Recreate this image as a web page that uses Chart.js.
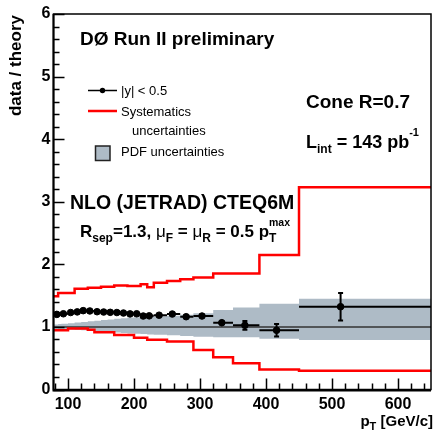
<!DOCTYPE html>
<html>
<head>
<meta charset="utf-8">
<script src="https://cdn.jsdelivr.net/npm/chart.js@4.4.1/dist/chart.umd.min.js"></script>
<style>
  html, body { margin: 0; padding: 0; background: #fff; }
  canvas { display: block; }
</style>
</head>
<body>
<canvas id="myChart" width="436" height="432"></canvas>
<script>
// data / theory for |y| < 0.5, one point per pT bin
const ptMean = [83, 93, 104, 114, 123, 133, 144, 154, 164, 174, 184, 194, 204, 214, 223, 238, 258, 279, 303, 333, 368, 416, 513];
const binLow = [80, 90, 100, 110, 120, 130, 140, 150, 160, 170, 180, 190, 200, 210, 220, 230, 250, 270, 290, 320, 350, 390, 450];
const binHigh = [90, 100, 110, 120, 130, 140, 150, 160, 170, 180, 190, 200, 210, 220, 230, 250, 270, 290, 320, 350, 390, 450, 650];
const ratio = [1.20, 1.21, 1.23, 1.24, 1.26, 1.255, 1.243, 1.238, 1.233, 1.23, 1.222, 1.208, 1.21, 1.174, 1.177, 1.187, 1.206, 1.163, 1.174, 1.067, 1.026, 0.946, 1.323];
const ratioErr = [0.01, 0.01, 0.01, 0.01, 0.01, 0.01, 0.01, 0.01, 0.01, 0.01, 0.01, 0.01, 0.01, 0.015, 0.015, 0.015, 0.02, 0.02, 0.03, 0.05, 0.07, 0.10, 0.22];

// step curves: value holds from each edge up to the next one
const edges = [78, 85, 90, 100, 110, 120, 130, 140, 150, 160, 170, 180, 190, 200, 210, 220, 230, 250, 270, 290, 320, 350, 390, 450, 650];
const sysUpper = [1.49, 1.54, 1.54, 1.54, 1.61, 1.61, 1.625, 1.625, 1.64, 1.64, 1.66, 1.66, 1.655, 1.655, 1.68, 1.633, 1.705, 1.733, 1.76, 1.79, 1.855, 1.855, 2.15, 3.23, 3.23];
const sysLower = [0.945, 0.945, 0.945, 0.975, 0.975, 0.975, 0.955, 0.915, 0.915, 0.915, 0.87, 0.87, 0.87, 0.825, 0.825, 0.795, 0.795, 0.765, 0.765, 0.63, 0.514, 0.418, 0.32, 0.30, 0.30];
const pdfUpper = [1.04, 1.045, 1.05, 1.06, 1.07, 1.08, 1.09, 1.10, 1.11, 1.12, 1.13, 1.14, 1.15, 1.155, 1.16, 1.165, 1.17, 1.18, 1.195, 1.22, 1.27, 1.31, 1.37, 1.45, 1.45];
const pdfLower = [0.97, 0.968, 0.965, 0.958, 0.952, 0.945, 0.94, 0.932, 0.925, 0.918, 0.91, 0.903, 0.896, 0.89, 0.885, 0.88, 0.875, 0.865, 0.855, 0.843, 0.834, 0.834, 0.81, 0.79, 0.79];

const xTicks = [100, 200, 300, 400, 500, 600];
const yTicks = [0, 1, 2, 3, 4, 5, 6];

const FONT = 'Liberation Sans, Arial, Helvetica, sans-serif';
const bold = s => `bold ${s}px ${FONT}`;
const reg = s => `${s}px ${FONT}`;
const pdfColor = '#aebbc6';

const steps = vals => edges.map((e, i) => ({ x: e, y: vals[i] }));

// draw a row of text pieces, sub/superscripts use dy
function drawRuns(ctx, x, y, runs, measureOnly) {
  runs.forEach(r => {
    ctx.font = r.font;
    if (!measureOnly) ctx.fillText(r.t, x, y + (r.dy || 0));
    if (!r.stay) x += ctx.measureText(r.t).width;
  });
  return x;
}

const errorBars = {
  id: 'errorBars',
  afterDatasetsDraw(chart) {
    const { ctx, chartArea, scales: { x, y } } = chart;
    ctx.save();
    ctx.beginPath();
    ctx.rect(chartArea.left, chartArea.top, chartArea.right - chartArea.left, chartArea.bottom - chartArea.top);
    ctx.clip();
    ctx.strokeStyle = '#000';
    ctx.lineWidth = 2;
    ptMean.forEach((pt, i) => {
      const px = x.getPixelForValue(pt);
      const py = y.getPixelForValue(ratio[i]);
      const top = y.getPixelForValue(ratio[i] + ratioErr[i]);
      const bot = y.getPixelForValue(ratio[i] - ratioErr[i]);
      ctx.beginPath();
      ctx.moveTo(x.getPixelForValue(binLow[i]), py);
      ctx.lineTo(x.getPixelForValue(binHigh[i]), py);
      ctx.moveTo(px, top);
      ctx.lineTo(px, bot);
      if (bot - top > 7) {
        ctx.moveTo(px - 2.5, top); ctx.lineTo(px + 2.5, top);
        ctx.moveTo(px - 2.5, bot); ctx.lineTo(px + 2.5, bot);
      }
      ctx.stroke();
    });
    ctx.restore();
  }
};

const frameTicks = {
  id: 'frameTicks',
  afterDraw(chart) {
    const { ctx, chartArea: a, scales: { x, y } } = chart;
    ctx.save();
    ctx.strokeStyle = '#000';
    // frame
    ctx.lineWidth = 1.5;
    ctx.strokeRect(a.left, a.top, a.right - a.left, a.bottom - a.top);
    ctx.lineWidth = 2;
    ctx.beginPath();
    ctx.moveTo(a.left, a.top); ctx.lineTo(a.left, a.bottom + 1);
    ctx.lineTo(a.right, a.bottom + 1);
    ctx.stroke();
    // ticks inside the frame
    ctx.lineWidth = 1.5;
    ctx.beginPath();
    for (let v = 80; v <= 640; v += 20) {
      const px = Math.round(x.getPixelForValue(v)) + 0.5;
      const len = v % 100 === 0 ? 11 : 6;
      ctx.moveTo(px, a.bottom); ctx.lineTo(px, a.bottom - len);
    }
    for (let k = 0; k <= 30; k++) {
      const py = Math.round(y.getPixelForValue(k / 5)) + 0.5;
      const len = k % 5 === 0 ? 11 : 6;
      ctx.moveTo(a.left, py); ctx.lineTo(a.left + len, py);
    }
    ctx.stroke();
    ctx.restore();
  }
};

const annotations = {
  id: 'annotations',
  afterDraw(chart) {
    const ctx = chart.ctx;
    ctx.save();
    ctx.fillStyle = '#000';
    ctx.textAlign = 'left';
    ctx.textBaseline = 'alphabetic';

    drawRuns(ctx, 80, 45, [{ t: 'DØ Run II preliminary', font: bold(19) }]);

    // legend
    ctx.strokeStyle = '#000';
    ctx.lineWidth = 1.5;
    ctx.beginPath(); ctx.moveTo(88, 90.5); ctx.lineTo(117, 90.5); ctx.stroke();
    ctx.beginPath(); ctx.arc(102.5, 90.5, 2.7, 0, Math.PI * 2); ctx.fill();
    drawRuns(ctx, 121, 94.5, [{ t: '|y| < 0.5', font: reg(13) }]);
    ctx.strokeStyle = '#ff0000';
    ctx.lineWidth = 2.5;
    ctx.beginPath(); ctx.moveTo(88, 111); ctx.lineTo(117, 111); ctx.stroke();
    drawRuns(ctx, 121, 116, [{ t: 'Systematics', font: reg(13) }]);
    drawRuns(ctx, 132, 135, [{ t: 'uncertainties', font: reg(13) }]);
    ctx.fillStyle = pdfColor;
    ctx.fillRect(95.5, 146, 14.5, 14.5);
    ctx.strokeStyle = '#222';
    ctx.lineWidth = 1.5;
    ctx.strokeRect(95.5, 146, 14.5, 14.5);
    ctx.fillStyle = '#000';
    drawRuns(ctx, 121, 155.5, [{ t: 'PDF uncertainties', font: reg(13) }]);

    drawRuns(ctx, 306, 108, [{ t: 'Cone R=0.7', font: bold(19) }]);
    drawRuns(ctx, 306, 148, [
      { t: 'L', font: bold(18) },
      { t: 'int', font: bold(12), dy: 5 },
      { t: ' = 143 pb', font: bold(18) },
      { t: '-1', font: bold(11), dy: -12 }
    ]);

    drawRuns(ctx, 70, 209, [{ t: 'NLO (JETRAD) CTEQ6M', font: bold(19.5) }]);
    drawRuns(ctx, 80, 237, [
      { t: 'R', font: bold(17) },
      { t: 'sep', font: bold(12), dy: 5 },
      { t: '=1.3, ', font: bold(17) },
      { t: 'μ', font: reg(17) },
      { t: 'F', font: bold(12), dy: 5 },
      { t: ' = ', font: bold(17) },
      { t: 'μ', font: reg(17) },
      { t: 'R', font: bold(12), dy: 5 },
      { t: ' = 0.5 p', font: bold(17) },
      { t: 'T', font: bold(12), dy: 5, stay: true },
      { t: 'max', font: bold(10.5), dy: -11 }
    ]);

    // axis titles
    const xTitle = [
      { t: 'p', font: bold(15) },
      { t: 'T', font: bold(11), dy: 4 },
      { t: ' [GeV/c]', font: bold(15) }
    ];
    const w = drawRuns(ctx, 0, 0, xTitle, true);
    drawRuns(ctx, 433 - w, 426, xTitle);

    ctx.translate(20.5, 15);
    ctx.rotate(-Math.PI / 2);
    ctx.textAlign = 'right';
    ctx.font = bold(17);
    ctx.fillText('data / theory', 0, 0);
    ctx.restore();
  }
};

const ctx = document.getElementById('myChart').getContext('2d');
new Chart(ctx, {
  type: 'line',
  data: {
    datasets: [
      {
        label: '|y| < 0.5',
        data: ptMean.map((p, i) => ({ x: p, y: ratio[i] })),
        showLine: false,
        pointRadius: 3.3,
        pointBackgroundColor: '#000',
        pointBorderColor: '#000',
        pointBorderWidth: 1
      },
      {
        label: 'Systematics upper',
        data: steps(sysUpper),
        stepped: true,
        borderColor: '#ff0000',
        borderWidth: 2.5,
        pointRadius: 0,
        fill: false
      },
      {
        label: 'Systematics lower',
        data: steps(sysLower),
        stepped: true,
        borderColor: '#ff0000',
        borderWidth: 2.5,
        pointRadius: 0,
        fill: false
      },
      {
        label: 'unity',
        data: [{ x: 78, y: 1 }, { x: 650, y: 1 }],
        borderColor: '#333',
        borderWidth: 1.5,
        pointRadius: 0,
        fill: false
      },
      {
        label: 'PDF upper',
        data: steps(pdfUpper),
        stepped: true,
        borderColor: 'rgba(0,0,0,0)',
        borderWidth: 1,
        backgroundColor: pdfColor,
        pointRadius: 0,
        fill: '+1'
      },
      {
        label: 'PDF lower',
        data: steps(pdfLower),
        stepped: true,
        borderColor: 'rgba(0,0,0,0)',
        borderWidth: 1,
        pointRadius: 0,
        fill: false
      }
    ]
  },
  options: {
    responsive: false,
    animation: false,
    devicePixelRatio: 1,
    layout: { padding: { top: 14, right: 2.5, left: 0, bottom: 0 } },
    plugins: { legend: { display: false }, tooltip: { enabled: false } },
    scales: {
      x: {
        type: 'linear',
        min: 78,
        max: 650,
        afterBuildTicks: s => { s.ticks = xTicks.map(v => ({ value: v })); },
        afterFit: s => { s.height = 42.5; },
        grid: { display: false, drawTicks: false },
        border: { display: false },
        ticks: { font: { family: FONT, size: 16, weight: 'bold' }, color: '#000', padding: 5, maxRotation: 0, autoSkip: false }
      },
      y: {
        type: 'linear',
        min: 0,
        max: 6,
        afterBuildTicks: s => { s.ticks = yTicks.map(v => ({ value: v })); },
        afterFit: s => { s.width = 53.5; },
        grid: { display: false, drawTicks: false },
        border: { display: false },
        ticks: { font: { family: FONT, size: 16, weight: 'bold' }, color: '#000', padding: 3 }
      }
    }
  },
  plugins: [errorBars, frameTicks, annotations]
});
</script>
</body>
</html>
